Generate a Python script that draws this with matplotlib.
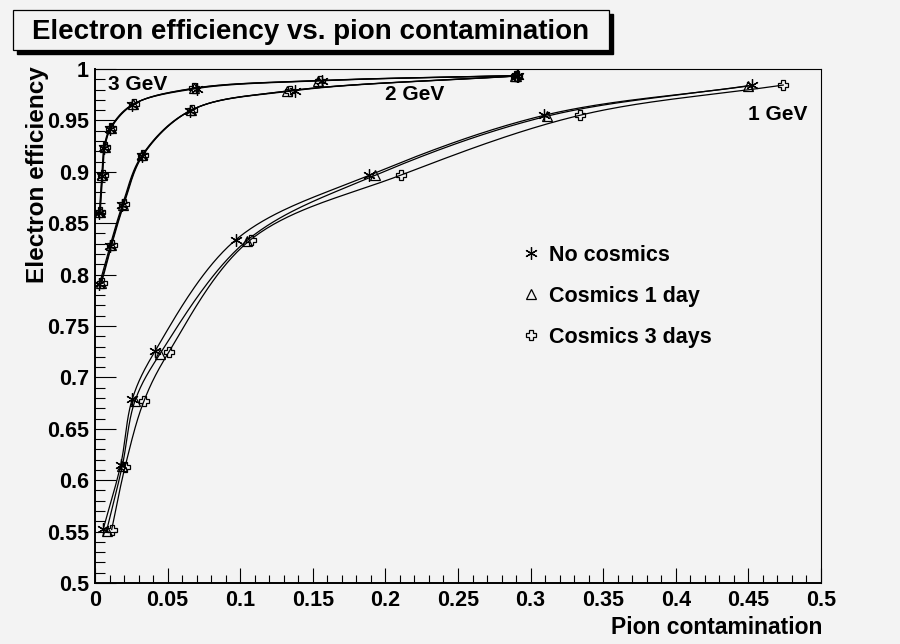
import numpy as np
import matplotlib
matplotlib.use("Agg")
import matplotlib.pyplot as plt
from matplotlib.lines import Line2D
from matplotlib.patches import Rectangle
from matplotlib.ticker import MultipleLocator

# ---------------- data ----------------
# 1 GeV
x1_nc = [0.0057, 0.0177, 0.0257, 0.0413, 0.0971, 0.1890, 0.3095, 0.4527]
y1_nc = [0.5526, 0.6150, 0.6790, 0.7254, 0.8340, 0.8967, 0.9550, 0.9840]
x1_c1 = [0.0080, 0.0188, 0.0275, 0.0448, 0.1045, 0.1928, 0.3110, 0.4500]
y1_c1 = [0.5510, 0.6140, 0.6770, 0.7230, 0.8330, 0.8965, 0.9540, 0.9838]
x1_c3 = [0.0115, 0.0207, 0.0337, 0.0510, 0.1072, 0.2105, 0.3340, 0.4740]
y1_c3 = [0.5520, 0.6130, 0.6770, 0.7250, 0.8340, 0.8967, 0.9550, 0.9844]
# 2 GeV
x2_nc = [0.0030, 0.0103, 0.0188, 0.0321, 0.0654, 0.1377, 0.2910]
y2_nc = [0.7905, 0.8278, 0.8675, 0.9155, 0.9594, 0.9790, 0.9932]
x2_c1 = [0.0040, 0.0110, 0.0195, 0.0327, 0.0660, 0.1320, 0.2900]
y2_c1 = [0.7915, 0.8285, 0.8680, 0.9160, 0.9597, 0.9785, 0.9932]
x2_c3 = [0.0045, 0.0115, 0.0200, 0.0332, 0.0665, 0.1340, 0.2905]
y2_c3 = [0.7920, 0.8290, 0.8685, 0.9165, 0.9600, 0.9788, 0.9933]
# 3 GeV
x3_nc = [0.0030, 0.0046, 0.0062, 0.0103, 0.0253, 0.0700, 0.1560, 0.2905]
y3_nc = [0.8600, 0.8960, 0.9236, 0.9420, 0.9650, 0.9810, 0.9886, 0.9935]
x3_c1 = [0.0033, 0.0049, 0.0066, 0.0108, 0.0262, 0.0685, 0.1535, 0.2895]
y3_c1 = [0.8605, 0.8965, 0.9240, 0.9425, 0.9655, 0.9812, 0.9887, 0.9935]
x3_c3 = [0.0036, 0.0052, 0.0069, 0.0112, 0.0270, 0.0680, 0.1550, 0.2900]
y3_c3 = [0.8610, 0.8970, 0.9245, 0.9430, 0.9660, 0.9813, 0.9888, 0.9936]

series_labels = ["No cosmics", "Cosmics 1 day", "Cosmics 3 days"]
energy_labels = ["1 GeV", "2 GeV", "3 GeV"]

x_ticks_major = 0.05
y_ticks_major = 0.05

# ---------------- style ----------------
BG = "#f3f3f3"
FONT = ["Liberation Sans", "DejaVu Sans"]
plt.rcParams["font.family"] = FONT
plt.rcParams["font.weight"] = "bold"

W, H = 900, 644
fig = plt.figure(figsize=(W / 100, H / 100), dpi=100, facecolor=BG)
L, R, T, B = 95, 821, 69, 583
ax = fig.add_axes([L / W, 1 - B / H, (R - L) / W, (B - T) / H], facecolor=BG)
ax.set_xlim(0, 0.5)
ax.set_ylim(0.5, 1.0)

XS = (R - L) / 0.5
YS = (B - T) / 0.5


def smooth(xs, ys, n=40):
    """Centripetal Catmull-Rom curve through the points (drawn in pixel-like space)."""
    P = np.column_stack([np.asarray(xs) * XS, np.asarray(ys) * YS])
    P = np.vstack([2 * P[0] - P[1], P, 2 * P[-1] - P[-2]])
    out = []
    for i in range(1, len(P) - 2):
        p0, p1, p2, p3 = P[i - 1], P[i], P[i + 1], P[i + 2]
        def tj(ti, a, b):
            return ti + max(np.linalg.norm(b - a), 1e-6) ** 0.5
        t0 = 0.0
        t1 = tj(t0, p0, p1)
        t2 = tj(t1, p1, p2)
        t3 = tj(t2, p2, p3)
        t = np.linspace(t1, t2, n)[:, None]
        A1 = (t1 - t) / (t1 - t0) * p0 + (t - t0) / (t1 - t0) * p1
        A2 = (t2 - t) / (t2 - t1) * p1 + (t - t1) / (t2 - t1) * p2
        A3 = (t3 - t) / (t3 - t2) * p2 + (t - t2) / (t3 - t2) * p3
        B1 = (t2 - t) / (t2 - t0) * A1 + (t - t0) / (t2 - t0) * A2
        B2 = (t3 - t) / (t3 - t1) * A2 + (t - t1) / (t3 - t1) * A3
        C = (t2 - t) / (t2 - t1) * B1 + (t - t1) / (t2 - t1) * B2
        out.append(C if i == 1 else C[1:])
    C = np.vstack(out)
    return C[:, 0] / XS, C[:, 1] / YS


markers = [
    dict(marker=(6, 2, 0), markersize=9, markeredgewidth=0.9, color="black"),
    dict(marker="^", markersize=7, markeredgewidth=0.9, markerfacecolor="none", color="black"),
    dict(marker="P", markersize=7.5, markeredgewidth=0.9, markerfacecolor="none", color="black"),
]

groups = [
    [(x1_nc, y1_nc), (x1_c1, y1_c1), (x1_c3, y1_c3)],
    [(x2_nc, y2_nc), (x2_c1, y2_c1), (x2_c3, y2_c3)],
    [(x3_nc, y3_nc), (x3_c1, y3_c1), (x3_c3, y3_c3)],
]

for g in groups:
    for k, (xs, ys) in enumerate(g):
        sx, sy = smooth(xs, ys)
        ax.plot(sx, sy, color="black", lw=0.9, zorder=2)
        ax.plot(xs, ys, linestyle="none", zorder=3, **markers[k])

handles = [Line2D([], [], linestyle="none", **markers[k]) for k in range(3)]

# ---------------- axes cosmetics ----------------
ax.xaxis.set_major_locator(MultipleLocator(x_ticks_major))
ax.xaxis.set_minor_locator(MultipleLocator(0.01))
ax.yaxis.set_major_locator(MultipleLocator(y_ticks_major))
ax.yaxis.set_minor_locator(MultipleLocator(0.01))


def fmt(v, pos):
    return ("%.2f" % v).rstrip("0").rstrip(".")


ax.xaxis.set_major_formatter(plt.FuncFormatter(fmt))
ax.yaxis.set_major_formatter(plt.FuncFormatter(fmt))

ax.tick_params(axis="both", which="both", direction="in", top=False, right=False,
               width=0.8, color="black")
ax.tick_params(axis="x", which="major", length=11, pad=5, labelsize=15.5)
ax.tick_params(axis="x", which="minor", length=5.5)
ax.tick_params(axis="y", which="major", length=15, pad=4.3, labelsize=15.5)
ax.tick_params(axis="y", which="minor", length=7.5)
for lab in ax.get_xticklabels() + ax.get_yticklabels():
    lab.set_fontweight("bold")

for s in ["left", "bottom"]:
    ax.spines[s].set_linewidth(1.4)
for s in ["top", "right"]:
    ax.spines[s].set_linewidth(0.8)

# axis titles
fig.text(822 / W, 1 - 628 / H, "Pion contamination", ha="right", va="center",
         fontsize=16.5, fontweight="bold")
fig.text(38 / W, 1 - 66 / H, "Electron efficiency", ha="center", va="top",
         rotation=90, fontsize=17.5, fontweight="bold")

# energy labels
fig.text(108 / W, 1 - 90 / H, energy_labels[2], ha="left", va="baseline", fontsize=15, fontweight="bold")
fig.text(385 / W, 1 - 100 / H, energy_labels[1], ha="left", va="baseline", fontsize=15, fontweight="bold")
fig.text(748 / W, 1 - 120 / H, energy_labels[0], ha="left", va="baseline", fontsize=15, fontweight="bold")

# legend
leg = ax.legend(handles, series_labels, loc="upper left",
                bbox_to_anchor=(522 / W, 1 - 245 / H), bbox_transform=fig.transFigure,
                frameon=False, fontsize=15.5, handlelength=0.8, handletextpad=0.45,
                labelspacing=0.92, borderpad=0, borderaxespad=0)
for t in leg.get_texts():
    t.set_fontweight("bold")

# title box with shadow
bx0, by0, bx1, by1 = 13, 10, 609, 50
fig.patches.append(Rectangle(((bx0 + 4) / W, 1 - (by1 + 4) / H), (bx1 - bx0) / W, (by1 - by0) / H,
                             transform=fig.transFigure, facecolor="black", edgecolor="black", zorder=1))
fig.patches.append(Rectangle((bx0 / W, 1 - by1 / H), (bx1 - bx0) / W, (by1 - by0) / H,
                             transform=fig.transFigure, facecolor=BG, edgecolor="black", lw=0.9, zorder=2))
fig.text(310.5 / W, 1 - 39 / H, "Electron efficiency vs. pion contamination", ha="center",
         va="baseline", fontsize=20, fontweight="bold", zorder=3)

fig.savefig("out.png", dpi=100, facecolor=BG)
